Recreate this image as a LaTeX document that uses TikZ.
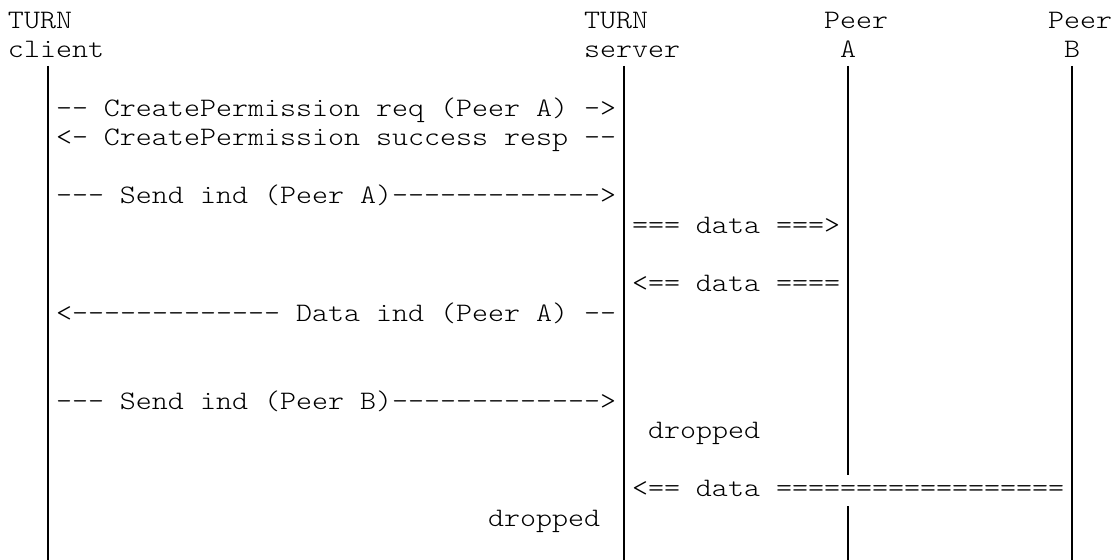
\documentclass[tikz,border=0pt]{standalone}
\usepackage{fontspec}
\setmonofont[FakeStretch=1.143]{Latin Modern Mono Light}
\newcommand{\asciifont}{\ttfamily\fontsize{26.67pt}{29.3pt}\selectfont}
\tikzset{
	txt/.style={font=\asciifont, anchor=base west, inner sep=0pt, outer sep=0pt},
	life/.style={line width=1.5pt}
}
\begin{document}
\begin{tikzpicture}[x=16pt, y=-29.3pt]
		\useasboundingbox (0,0) rectangle (69.75,19.11);

		% headers
		\node [txt] (turnC) at ( 0.5, 0.96 ) {TURN};
		\node [txt] (client) at ( 0.5, 1.96 ) {client};
		\node [txt] (turnS) at ( 36.5, 0.96 ) {TURN};
		\node [txt] (server) at ( 36.5, 1.96 ) {server};
		\node [txt] (peerA) at ( 51.5, 0.96 ) {Peer};
		\node [txt] (nameA) at ( 52.5, 1.96 ) {A};
		\node [txt] (peerB) at ( 65.5, 0.96 ) {Peer};
		\node [txt] (nameB) at ( 66.5, 1.96 ) {B};

		% lifelines
		\coordinate (clientTop) at ( 3, 2.25 );
		\coordinate (clientBot) at ( 3, 19.11 );
		\coordinate (serverTop) at ( 39, 2.25 );
		\coordinate (serverBot) at ( 39, 19.11 );
		\coordinate (aTop) at ( 53, 2.25 );
		\coordinate (aGapTop) at ( 53, 16.21 );
		\coordinate (aGapBot) at ( 53, 17.27 );
		\coordinate (aBot) at ( 53, 19.11 );
		\coordinate (bTop) at ( 67, 2.25 );
		\coordinate (bBot) at ( 67, 19.11 );
		\draw [life] (clientTop) -- (clientBot);
		\draw [life] (serverTop) -- (serverBot);
		\draw [life] (aTop) -- (aGapTop);
		\draw [life] (aGapBot) -- (aBot);
		\draw [life] (bTop) -- (bBot);

		% permission
		\node [txt] (permReq) at ( 3.5, 3.96 ) {-- CreatePermission req (Peer A) ->};
		\node [txt] (permResp) at ( 3.5, 4.96 ) {<- CreatePermission success resp --};

		% peer A
		\node [txt] (sendA) at ( 3.5, 6.96 ) {--- Send ind (Peer A)------------->};
		\node [txt] (dataToA) at ( 39.5, 7.96 ) {=== data ===>};
		\node [txt] (dataFromA) at ( 39.5, 9.96 ) {<== data ====};
		\node [txt] (dataIndA) at ( 3.5, 10.96 ) {<------------- Data ind (Peer A) --};

		% peer B
		\node [txt] (sendB) at ( 3.5, 13.96 ) {--- Send ind (Peer B)------------->};
		\node [txt] (dropS) at ( 40.5, 14.96 ) {dropped};
		\node [txt] (dataFromB) at ( 39.5, 16.96 ) {<== data ==================};
		\node [txt] (dropC) at ( 30.5, 17.96 ) {dropped};
	\end{tikzpicture}
\end{document}
